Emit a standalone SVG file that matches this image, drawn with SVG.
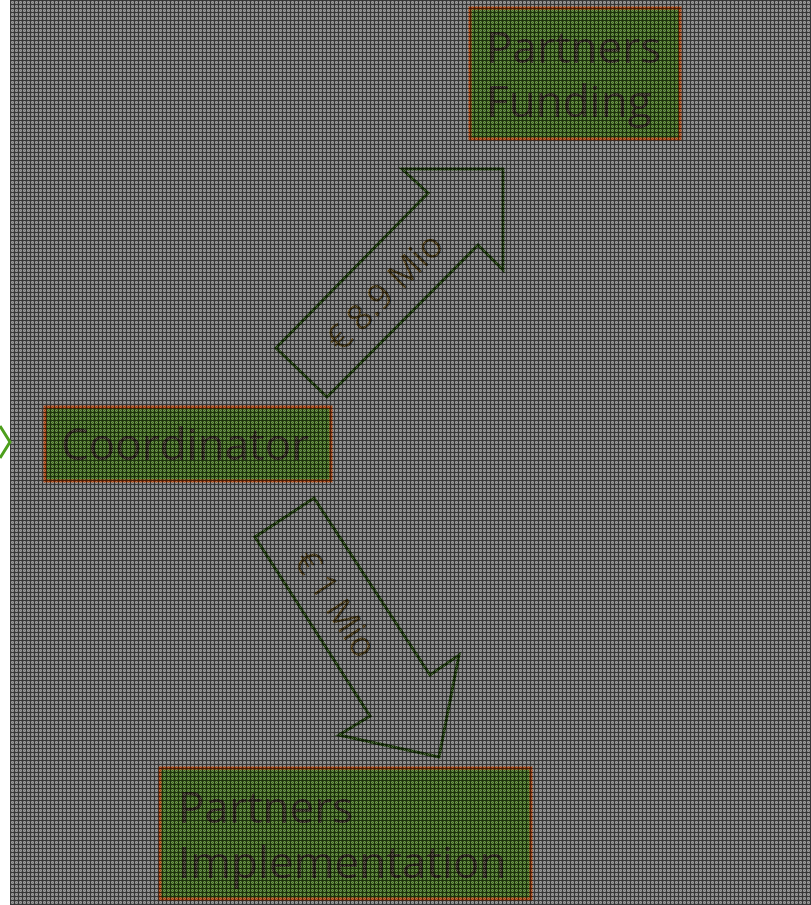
<svg xmlns="http://www.w3.org/2000/svg" width="811" height="905" viewBox="0 0 811 905">
  <style>
    .box { fill: #3f6a1c; stroke: #a33e0c; stroke-width: 3; }
    .lbl { font-family: "Open Sans", "Noto Sans", sans-serif; font-size: 44px; fill: #302a1e; }
    .flow { fill: none; stroke: #1d3c0a; stroke-width: 3; stroke-linejoin: miter; }
    .flowlbl { font-family: "Open Sans", "Noto Sans", sans-serif; font-size: 35px; fill: #423514; text-anchor: middle; }
  </style>
  <defs>
    <pattern id="grain" x="10" y="0" width="8" height="8" patternUnits="userSpaceOnUse">
      <path d="M0 0h8v1H0zM0 4h8v1H0zM0 1h1v3H0zM0 5h1v3H0zM4 1h1v3H4zM4 5h1v3H4z" fill="#000" fill-opacity="0.55"/>
      <path d="M2 1h1v1h-1zM6 1h1v1h-1zM1 2h1v1h-1zM3 2h1v1h-1zM5 2h1v1h-1zM7 2h1v1h-1zM2 3h1v1h-1zM6 3h1v1h-1zM2 5h1v1h-1zM6 5h1v1h-1zM1 6h1v1h-1zM3 6h1v1h-1zM5 6h1v1h-1zM7 6h1v1h-1zM2 7h1v1h-1zM6 7h1v1h-1z" fill="#fff" fill-opacity="0.25"/>
    </pattern>
  </defs>
  <rect x="0" y="0" width="811" height="905" fill="#ffffff"/>
  <rect x="10" y="0" width="801" height="905" fill="#7a7a7a"/>

  <g id="partners-funding">
    <rect class="box" x="470" y="8" width="210" height="131"/>
    <text class="lbl" x="486" y="63">Partners</text>
    <text class="lbl" x="486" y="117">Funding</text>
  </g>
  <g id="coordinator">
    <rect class="box" x="45" y="407" width="286" height="74"/>
    <text class="lbl" x="61" y="460">Coordinator</text>
  </g>
  <g id="partners-implementation">
    <rect class="box" x="160" y="768" width="371" height="131"/>
    <text class="lbl" x="178" y="823">Partners</text>
    <text class="lbl" x="178" y="878">Implementation</text>
  </g>

  <g id="connectors">
    <g id="flow-funding">
      <polygon class="flow" points="276,348 428,193 402,169 503,169 503,270 478,245 327,397"/>
      <text class="flowlbl" transform="translate(385,292) rotate(-45.5)" x="0" y="12">€ 8.9 Mio</text>
    </g>
    <g id="flow-implementation">
      <polygon class="flow" points="314,498 430,675 459,655 439,757 339,735 370,716 255,537"/>
      <text class="flowlbl" transform="translate(336,604) rotate(56.8)" x="0" y="12">€ 1 Mio</text>
    </g>
  </g>

  <rect x="10" y="0" width="801" height="905" fill="url(#grain)"/>

  <path d="M0 426 L10 442 L0 458" fill="none" stroke="#4d9f1d" stroke-width="3"/>
</svg>
